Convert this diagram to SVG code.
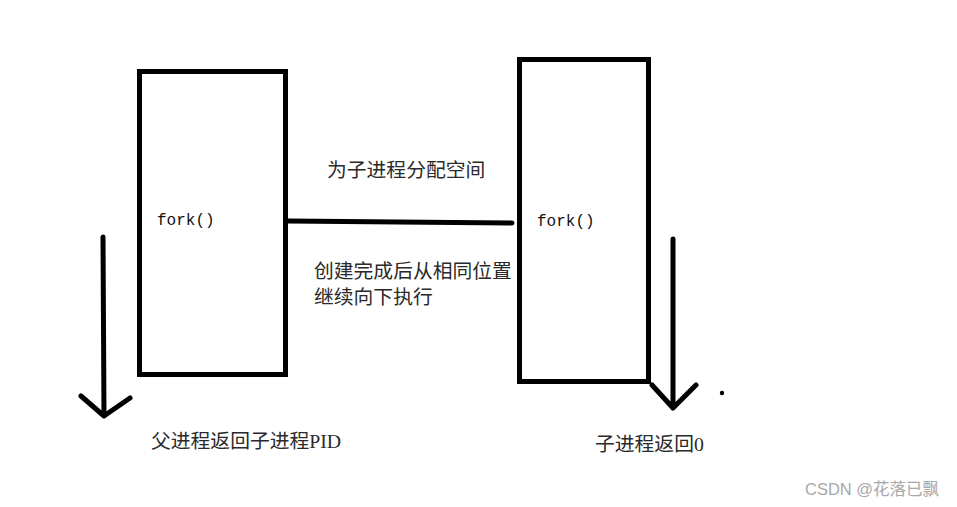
<svg xmlns="http://www.w3.org/2000/svg" width="957" height="507" viewBox="0 0 957 507">
<style>
.box{fill:none;stroke:#000;stroke-width:5}
.ln{fill:none;stroke:#000;stroke-width:5;stroke-linecap:round;stroke-linejoin:round}
.code{font-family:"Liberation Mono",monospace;font-size:16px;fill:#111}
.cjk{font-family:"Liberation Serif","Noto Sans CJK SC",serif;font-size:19.8px;fill:#2a2a2a}
.wm{font-family:"Liberation Sans","Noto Sans CJK SC",sans-serif;font-size:16.5px;fill:#a8a8a8}
</style>
<rect width="957" height="507" fill="#fff"/>
<g id="parent">
<rect class="box" x="139.5" y="71.5" width="146" height="303"/>
<text class="code" x="157" y="225">fork()</text>
</g>
<g id="child">
<rect class="box" x="519.5" y="59.5" width="129" height="322"/>
<text class="code" x="537" y="226">fork()</text>
</g>
<g id="connectors">
<path class="ln" d="M288 221 L512 223"/>
<path class="ln" d="M103 237 L104 416 M81 396 L104 416 L130 398"/>
<path class="ln" d="M673 239 L673 408 M652 385 L673 408 L696 385"/>
<circle cx="722" cy="393" r="2.2" fill="#000"/>
</g>
<g id="labels">
<text class="cjk" x="327" y="177">为子进程分配空间</text>
<text class="cjk" x="314" y="278">创建完成后从相同位置</text>
<text class="cjk" x="314" y="304">继续向下执行</text>
<text class="cjk" x="151" y="448">父进程返回子进程PID</text>
<text class="cjk" x="595" y="451">子进程返回0</text>
<text class="wm" x="805" y="495">CSDN @花落已飘</text>
</g>
</svg>
